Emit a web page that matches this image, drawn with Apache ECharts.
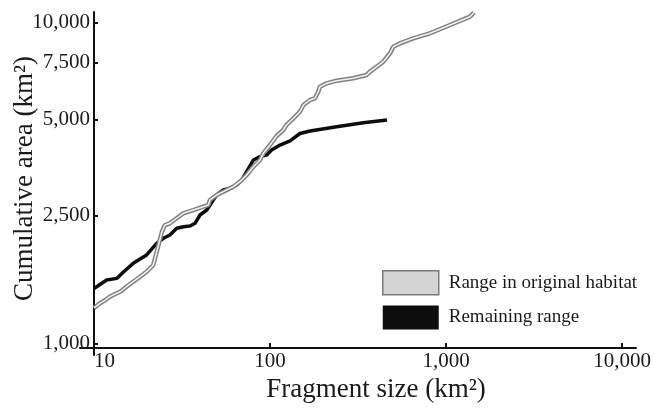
<!DOCTYPE html>
<html><head><meta charset="utf-8">
<script src="https://cdn.jsdelivr.net/npm/echarts@6/dist/echarts.min.js"></script>
<style>html,body{margin:0;padding:0;background:#fff}#c{width:654px;height:408px}</style>
</head><body><div id="c"></div>
<script>
// Fragment size (km²) and cumulative area (km²)
const originalSize = [10,10.8,11.6,12.3,13.2,14.1,15.3,16.7,18.3,19.9,21.7,22.7,24.3,25.3,27,29.5,32.2,36.7,41.8,44.6,45.6,49.8,54.3,61.9,67.5,73.7,80.4,87.8,91.6,100,109,119,124,136,148,155,169,180,188,192,210,239,297,354,370,404,440,481,502,548,652,811,1054,1369,1442];
const originalArea = [1292,1336,1368,1401,1428,1452,1505,1560,1617,1676,1759,1931,2228,2343,2372,2459,2548,2609,2672,2704,2804,2906,2976,3084,3197,3354,3560,3735,3918,4159,4436,4631,4801,5038,5282,5542,5745,5815,6095,6318,6474,6597,6712,6873,7039,7295,7561,8030,8416,8626,8941,9268,9836,10440,10760];
const remainingSize = [10,11.8,13.5,14.7,16.7,19.9,22.7,24.8,27,29.5,32.2,35.1,37.5,40,43.7,47.6,49.8,54.3,59.3,64.7,69.1,73.7,80.4,87.8,95.8,102,114,130,148,169,239,339,462];
const remainingArea = [1486,1579,1598,1673,1780,1890,2055,2130,2181,2288,2314,2326,2372,2517,2609,2804,2906,3012,3049,3122,3236,3434,3735,3825,3872,4013,4159,4281,4516,4598,4742,4881,4977];
const xTicks = [10,100,1000,10000];
const yTicks = [1000,2500,5000,7500,10000];
const seriesNames = ['Range in original habitat','Remaining range'];
const xName = 'Fragment size (km²)';
const yName = 'Cumulative area (km²)';

const zip = (a,b) => a.map((v,i)=>[v,b[i]]);
const fmt = v => String(Math.round(v)).replace(/\B(?=(\d{3})+(?!\d))/g, ',');
const FONT = "'Liberation Serif','Times New Roman',serif";
const TXT = '#1a1a1a';

const chart = echarts.init(document.getElementById('c'), null, {renderer:'canvas'});
chart.setOption({
  animation:false,
  backgroundColor:'#fff',
  grid:{left:80,right:18,top:12,bottom:53,containLabel:false,outerBoundsMode:'none'},
  xAxis:{
    type:'log', min:8.325, max:12010, offset:-7,
    name:xName, nameLocation:'middle', nameGap:28, nameMoveOverlap:false,
    nameTextStyle:{fontFamily:FONT,fontSize:27,color:TXT,padding:[0,0,0,36]},
    axisLine:{lineStyle:{color:'#111',width:2}},
    axisTick:{inside:true,length:5,lineStyle:{color:'#111',width:2},customValues:xTicks},
    axisLabel:{customValues:xTicks,formatter:fmt,fontFamily:FONT,fontSize:21,color:TXT,margin:3,alignMinLabel:'left'},
    splitLine:{show:false},minorTick:{show:false},minorSplitLine:{show:false}
  },
  yAxis:{
    type:'log', min:922.2, max:10797, offset:-14,
    name:yName, nameLocation:'middle', nameGap:56, nameRotate:90, nameMoveOverlap:false,
    nameTextStyle:{fontFamily:FONT,fontSize:27,color:TXT,padding:[0,0,0,10]},
    axisLine:{lineStyle:{color:'#111',width:2}},
    axisTick:{inside:true,length:4,lineStyle:{color:'#111',width:2},customValues:yTicks},
    axisLabel:{customValues:yTicks,formatter:fmt,fontFamily:FONT,fontSize:21,color:TXT,margin:4},
    splitLine:{show:false},minorTick:{show:false},minorSplitLine:{show:false}
  },
  legend:{
    orient:'vertical', left:377, top:265, itemWidth:56, itemHeight:24, itemGap:10,
    icon:'rect',
    textStyle:{fontFamily:FONT,fontSize:19,color:TXT,padding:[0,0,0,5]},
    data:[
      {name:seriesNames[0], itemStyle:{color:'#d4d4d4',borderColor:'#7a7a7a',borderWidth:1.5}},
      {name:seriesNames[1], itemStyle:{color:'#0d0d0d',borderColor:'#0d0d0d',borderWidth:0}}
    ]
  },
  series:[
    {name:seriesNames[1], type:'line', data:zip(remainingSize,remainingArea), showSymbol:false, symbol:'none',
     lineStyle:{color:'#0d0d0d',width:3.5}, itemStyle:{color:'#0d0d0d'}, z:2},
    {name:seriesNames[0], type:'line', data:zip(originalSize,originalArea), showSymbol:false, symbol:'none',
     lineStyle:{color:'#808080',width:4.5}, itemStyle:{color:'#d4d4d4'}, z:3},
    {name:'inner', type:'line', data:zip(originalSize,originalArea), showSymbol:false, symbol:'none',
     lineStyle:{color:'#f2f2f2',width:1.5}, itemStyle:{color:'#f2f2f2'}, z:4}
  ]
});
</script></body></html>
